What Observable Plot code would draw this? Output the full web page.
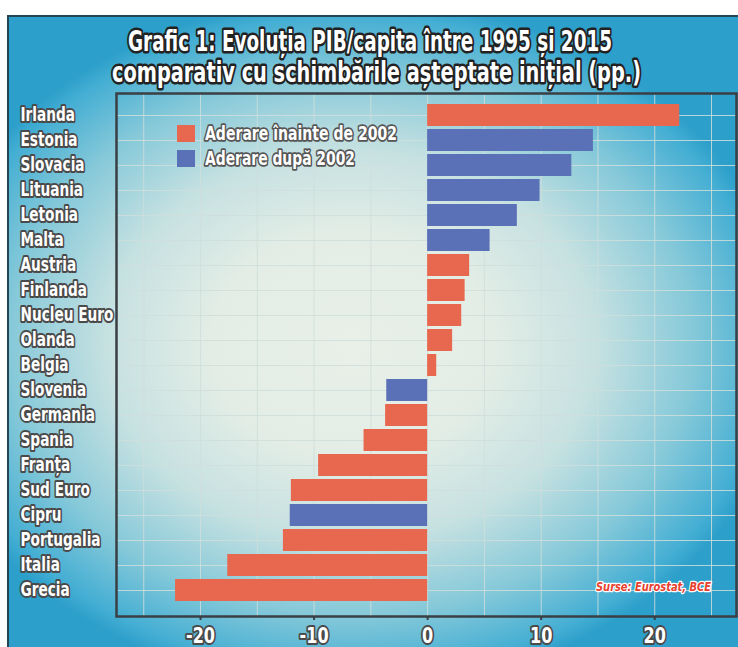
<!DOCTYPE html>
<html>
<head>
<meta charset="utf-8">
<script src="https://cdn.jsdelivr.net/npm/d3@7"></script>
<script src="https://cdn.jsdelivr.net/npm/@observablehq/plot@0.6"></script>
<style>
  html, body { margin: 0; padding: 0; background: #ffffff; width: 738px; height: 647px; overflow: hidden; }
  #card {
    position: absolute; left: 7px; top: 15px; width: 731px; height: 632px;
    box-sizing: border-box;
    border-left: 2px solid #234657; border-top: 2px solid #234657;
    background:
      radial-gradient(ellipse 60% 55% at 47% 52%, #e8f0e8 0%, #e3ede6 32%, #c6e1e1 56%, #86c9d9 78%, #44aed3 95%, #2c9fca 100%);
  }
  #chart { position: absolute; left: 0; top: 0; }
</style>
</head>
<body>
<div id="card"></div>
<div id="chart"></div>
<script>
const countries = ["Irlanda","Estonia","Slovacia","Lituania","Letonia","Malta","Austria","Finlanda","Nucleu Euro","Olanda","Belgia","Slovenia","Germania","Spania","Franța","Sud Euro","Cipru","Portugalia","Italia","Grecia"];
const values = [22.2, 14.6, 12.7, 9.9, 7.9, 5.5, 3.7, 3.3, 3.0, 2.2, 0.8, -3.6, -3.7, -5.6, -9.6, -12.0, -12.1, -12.7, -17.6, -22.2];
const groups = ["before","after","after","after","after","after","before","before","before","before","before","after","before","before","before","before","after","before","before","before"];
const groupNames = ["before","after"];
const groupLabels = ["Aderare înainte de 2002","Aderare după 2002"];
const groupColors = ["#e8684f","#5a71b8"];
const xTicks = [-20, -10, 0, 10, 20];
const gridTicks = [-25, -20, -15, -10, -5, 0, 5, 10, 15, 20, 25];
const titleLines = ["Grafic 1: Evoluția PIB/capita între 1995 și 2015", "comparativ cu schimbările așteptate inițial (pp.)"];
const sourceText = "Surse: Eurostat, BCE";

const data = countries.map((c, i) => ({country: c, value: values[i], group: groups[i]}));
const fam = '"Liberation Sans Narrow", "Arial Narrow", "DejaVu Sans Condensed", "Roboto Condensed", sans-serif';

const chart = Plot.plot({
  width: 738, height: 647,
  marginLeft: 116, marginRight: 2, marginTop: 93, marginBottom: 31,
  style: {background: "transparent", overflow: "visible", fontFamily: fam},
  x: {domain: [-27.4, 27.2]},
  y: {domain: countries, padding: 0.12, insetTop: 2, insetBottom: 6, axis: null},
  color: {domain: groupNames, range: groupColors},
  marks: [
    Plot.gridX(gridTicks, {stroke: "#cfdedc", strokeOpacity: 0.85, strokeWidth: 1}),
    Plot.gridY({stroke: "#cfdedc", strokeOpacity: 0.85, strokeWidth: 1}),
    Plot.barX(data, {x: "value", y: "country", fill: "group"}),
    Plot.frame({stroke: "#3a3f44", strokeWidth: 2.5}),
    Plot.axisX(xTicks, {
      tickSize: 4, tickPadding: 8, stroke: "#3a3f44", strokeWidth: 2,
      fill: "#ffffff", textStroke: "#4a4a4a", textStrokeWidth: 4,
      fontSize: 21, fontWeight: "bold", fontFamily: fam,
      tickFormat: d => String(d), label: null
    }),
    Plot.text(data, {
      y: "country", text: "country", frameAnchor: "left", dx: -96, dy: -1,
      textAnchor: "start", fill: "#ffffff", stroke: "#4a4a4a", strokeWidth: 4,
      fontSize: 20, fontWeight: "bold", fontFamily: fam
    })
  ]
});
document.getElementById("chart").appendChild(chart);

const svg = d3.select(chart);
const tickStrings = xTicks.map(String);
// condense country labels and tick labels horizontally (the reference uses a condensed face)
svg.selectAll("text").each(function() {
  const s = this.textContent;
  let k = null;
  if (countries.includes(s)) k = 0.76;
  else if (tickStrings.includes(s)) k = 0.85;
  if (k) {
    const w = this.getComputedTextLength();
    this.setAttribute("textLength", w * k);
    this.setAttribute("lengthAdjust", "spacingAndGlyphs");
  }
});

function outlined(sel, opts) {
  return sel.append("text")
    .attr("x", opts.x).attr("y", opts.y)
    .attr("text-anchor", "start")
    .attr("textLength", opts.len).attr("lengthAdjust", "spacingAndGlyphs")
    .attr("font-family", fam).attr("font-size", opts.size)
    .attr("font-weight", "bold").attr("font-style", opts.italic ? "italic" : "normal")
    .attr("fill", opts.fill).attr("stroke", opts.stroke).attr("stroke-width", opts.sw)
    .attr("stroke-linejoin", "round").attr("paint-order", "stroke")
    .text(opts.text);
}
// Title
outlined(svg, {x: 128, y: 51, len: 484, size: 29, fill: "#ffffff", stroke: "#222222", sw: 5, text: titleLines[0]});
outlined(svg, {x: 112, y: 82, len: 529, size: 29, fill: "#ffffff", stroke: "#222222", sw: 5, text: titleLines[1]});
// Legend
const leg = svg.append("g");
groupNames.forEach((g, i) => {
  const y0 = 125 + i * 25;
  leg.append("rect").attr("x", 177).attr("y", y0).attr("width", 18).attr("height", 17).attr("fill", groupColors[i]);
  outlined(leg, {x: 205, y: y0 + 15, len: i === 0 ? 192 : 150, size: 19, fill: "#ffffff", stroke: "#555555", sw: 3.5, text: groupLabels[i]});
});
// Source
outlined(svg, {x: 596, y: 591, len: 115, size: 13, italic: true, fill: "#e8402e", stroke: "#ffffff", sw: 2.5, text: sourceText});
</script>
</body>
</html>
